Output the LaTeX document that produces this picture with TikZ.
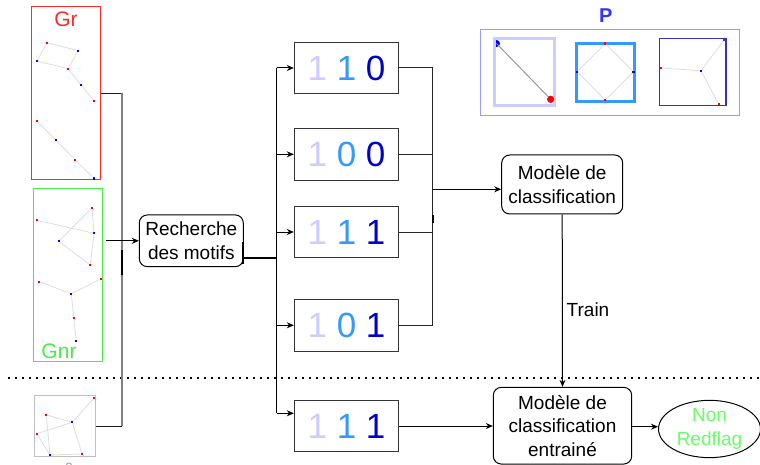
\documentclass[tikz,border=0pt]{standalone}
\usepackage{fontspec}
\setmainfont{Liberation Sans}
\usetikzlibrary{arrows.meta,shapes.geometric}
\definecolor{gr}{HTML}{FF2A2A}
\definecolor{gn}{HTML}{44EE44}
\definecolor{lgn}{HTML}{66FF66}
\definecolor{lav}{HTML}{CCCCFF}
\definecolor{mblue}{HTML}{3399FF}
\definecolor{dblue}{HTML}{0000CC}
\definecolor{pblue}{HTML}{3333FF}
\definecolor{pframe}{HTML}{9999FF}
\definecolor{sq3}{HTML}{3333CC}
\definecolor{edgec}{HTML}{DDDDDD}
\definecolor{boxc}{HTML}{333333}
\begin{document}
\begin{tikzpicture}[x=1pt,y=-1pt,
  rdot/.style={rectangle,fill=red,inner sep=0pt,minimum size=2.2pt},
  bdot/.style={rectangle,fill=blue,inner sep=0pt,minimum size=2.2pt},
  gedge/.style={draw=edgec,line width=0.8pt},
  bitbox/.style={draw=boxc,line width=1pt,minimum width=104.4pt,minimum height=51.5pt,inner sep=0pt,font=\fontsize{35}{35}\selectfont},
  rbox/.style={draw=black,line width=1pt,rounded corners=8pt,align=center,inner sep=0pt,font=\fontsize{19}{23.5}\selectfont},
  conn/.style={draw=black!85,line width=1pt},
  arr/.style={draw=black,line width=1pt,-{Stealth[length=7pt,width=6pt]}},
  lbl/.style={inner sep=0pt,font=\fontsize{19}{23.5}\selectfont}
]
\useasboundingbox (0,0) rectangle (760,465);

% ---------- Gr ----------
\node[draw=gr,line width=1pt,minimum width=69pt,minimum height=173pt,inner sep=0pt] (grbox) at (65.5,93.5) {};
\node[text=gr,inner sep=0pt,font=\fontsize{21}{21}\selectfont] (grt) at (66,19) {Gr};
\node[rdot] (a1) at (47.3,42.7) {};
\node[bdot] (a2) at (78.3,50.7) {};
\node[bdot] (a3) at (36.7,61) {};
\node[rdot] (a4) at (68,68.7) {};
\node[bdot] (a5) at (81,85) {};
\node[rdot] (a6) at (94,100.7) {};
\node[rdot] (a7) at (36.7,121) {};
\node[bdot] (a8) at (56,140.3) {};
\node[rdot] (a9) at (75,159.7) {};
\node[bdot] (a10) at (94,178.5) {};
\draw[gedge] (a1)--(a2) (a1)--(a3) (a3)--(a4) (a2)--(a4) (a4)--(a5) (a5)--(a6)
  (a7)--(a8) (a8)--(a9) (a9)--(a10);

% ---------- Gnr ----------
\node[draw=gn,line width=1pt,minimum width=69.4pt,minimum height=172.7pt,inner sep=0pt] (gnbox) at (68,275.3) {};
\node[text=gn,inner sep=0pt,font=\fontsize{21}{21}\selectfont] (gnt) at (59,351) {Gnr};
\node[rdot] (c1) at (92,208) {};
\node[rdot] (c2) at (36.7,220.3) {};
\node[bdot] (c3) at (94,233.3) {};
\node[bdot] (c4) at (58.7,241.3) {};
\node[rdot] (c5) at (90.3,265) {};
\node[rdot] (c6) at (39.3,281.7) {};
\node[rdot] (c7) at (100.7,279) {};
\node[bdot] (c8) at (71.3,293.7) {};
\node[rdot] (c9) at (73.7,317.7) {};
\node[bdot] (c10) at (76.3,340.7) {};
\draw[gedge] (c1)--(c3) (c1)--(c4) (c2)--(c3) (c4)--(c5) (c3)--(c5)
  (c6)--(c8) (c7)--(c8) (c8)--(c9) (c9)--(c10);

% ---------- small graph ----------
\node[draw=black!25,line width=1.5pt,minimum width=61pt,minimum height=60.6pt,inner sep=0pt] (sm) at (65.2,426) {};
\node[rdot] (d1) at (94,398) {};
\node[rdot] (d2) at (46.3,415) {};
\node[bdot] (d3) at (72.3,422.3) {};
\node[rdot] (d4) at (36.7,433.7) {};
\node[bdot] (d5) at (50,455) {};
\node[rdot] (d6) at (82,454) {};
\draw[gedge] (d1)--(d3) (d2)--(d3) (d2)--(d5) (d4)--(d3) (d4)--(d5) (d3)--(d6) (d5)--(d6);
\node[text=black!40,inner sep=0pt,font=\fontsize{12}{12}\selectfont] (qm) at (69,467.5) {?};

% ---------- dotted separator ----------
\coordinate (dl) at (8,378);
\coordinate (dr) at (760,378);
\draw[black,line width=1.6pt,dash pattern=on 1.6pt off 5.4pt] (dl) -- (dr);

% ---------- left collector ----------
\coordinate (j1) at (121.7,93.5);
\coordinate (j2) at (121.7,426);
\coordinate (j3) at (121.7,250);
\coordinate (j4) at (121.7,275);
\coordinate (ain) at (106,240.8);
\draw[black!90,line width=1pt] (grbox.east) -- (j1);
\draw[black!50,line width=2pt] (j1) -- (j2);
\draw[black!90,line width=1pt] (sm.east) -- (j2);
\draw[black,line width=2pt] (j3) -- (j4);

% ---------- Recherche ----------
\node[rbox,minimum width=104pt,minimum height=51.7pt] (rech) at (191.3,240.8) {Recherche\\des motifs};
\draw[arr] (ain) -- (rech.west);
\coordinate (rt) at (243.3,241.7);
\coordinate (rb) at (243.3,264);
\draw[black,line width=2pt] (rt) -- (rb);
\coordinate (f0) at (276.7,258.3);
\draw[black,line width=2pt] (rech.east |- f0) -- (f0);

% ---------- bit boxes ----------
\node[bitbox] (b1) at (346.5,68) {\textcolor{lav}{1} \textcolor{mblue}{1} \textcolor{dblue}{0}};
\node[bitbox] (b2) at (346.5,154.3) {\textcolor{lav}{1} \textcolor{mblue}{0} \textcolor{dblue}{0}};
\node[bitbox] (b3) at (346.5,232) {\textcolor{lav}{1} \textcolor{mblue}{1} \textcolor{dblue}{1}};
\node[bitbox] (b4) at (346.5,325.3) {\textcolor{lav}{1} \textcolor{mblue}{0} \textcolor{dblue}{1}};
\node[bitbox] (b5) at (346.5,426) {\textcolor{lav}{1} \textcolor{mblue}{1} \textcolor{dblue}{1}};

\coordinate (ft) at (276.7,68);
\coordinate (fb) at (276.7,413.3);
\draw[conn,draw=black] (ft) -- (fb);
\draw[arr] (ft) -- (b1.west);
\draw[arr] (276.7,154.3) -- (b2.west);
\draw[arr] (276.7,232) -- (b3.west);
\draw[arr] (276.7,325.3) -- (b4.west);
\draw[arr] (fb) -- (fb -| b5.west);

% ---------- right collector ----------
\coordinate (k1) at (432.7,68);
\coordinate (k4) at (432.7,325.3);
\coordinate (km) at (432.7,189.3);
\draw[conn] (b1.east) -- (k1) -- (k4) -- (b4.east);
\draw[conn] (b2.east) -- (b2.east -| k1);
\draw[conn] (b3.east) -- (b3.east -| k1);
\draw[black,line width=2pt] (432.7,215) -- (432.7,223);

% ---------- classifier ----------
\node[rbox,minimum width=121pt,minimum height=59pt] (mc) at (562.2,184.5) {Modèle de\\classification};
\draw[arr] (km) -- (km -| mc.west);

\node[rbox,minimum width=138.4pt,minimum height=76.7pt] (me) at (562.5,425.7) {Modèle de\\classification\\entrainé};
\draw[arr] (mc.south) -- (me.north);
\node[lbl,anchor=west] (train) at (566.5,310) {Train};

\draw[arr] (b5.east) -- (b5.east -| me.west);

\node[draw=black,line width=1pt,ellipse,minimum width=102pt,minimum height=55pt,inner sep=0pt,align=center,text=lgn,font=\fontsize{19}{23.5}\selectfont] (ell) at (709.5,429) {Non\\Redflag};
\draw[arr] (me.east |- 0,426.7) -- (ell.west |- 0,426.7);

% ---------- P panel ----------
\node[text=pblue,inner sep=0pt,font=\bfseries\fontsize{20}{20}\selectfont] (pt) at (605.7,16) {P};
\node[draw=pframe,line width=1.2pt,minimum width=259pt,minimum height=86.4pt,inner sep=0pt] (pframe) at (609.8,72.5) {};

% square 1
\node[circle,fill=blue,inner sep=0pt,minimum size=7pt] (p1) at (496.5,43.5) {};
\node[circle,fill=red,inner sep=0pt,minimum size=7pt] (p2) at (550.7,99.3) {};
\draw[black!40,line width=1pt] (p1.center) -- (p2.center);
\node[draw=lav,line width=3pt,minimum width=60.3pt,minimum height=67.3pt,inner sep=0pt] (s1) at (524.3,71.8) {};
\node[circle,fill=red,inner sep=0pt,minimum size=7pt] at (p2) {};

% square 2
\node[draw=mblue,line width=3pt,minimum width=58pt,minimum height=58pt,inner sep=0pt] (s2) at (605.2,72.2) {};
\node[rdot] (q1) at (605.3,43.5) {};
\node[bdot] (q2) at (577.3,71.7) {};
\node[bdot] (q3) at (633.5,71.7) {};
\node[rdot] (q4) at (605.3,100.2) {};
\draw[gedge] (q1)--(q2) (q1)--(q3) (q2)--(q4) (q3)--(q4);

% square 3
\node[draw=sq3,line width=1.3pt,minimum width=66.4pt,minimum height=66.6pt,inner sep=0pt] (s3) at (692.5,72) {};
\draw[sq3,line width=2pt] (s3.north east) -- (s3.south east);
\node[rdot] (r1) at (724,40) {};
\node[rdot] (r2) at (660.7,68) {};
\node[bdot] (r3) at (701,70.7) {};
\node[rdot] (r4) at (718.7,104) {};
\draw[gedge] (r3)--(r1) (r3)--(r2) (r3)--(r4);
\end{tikzpicture}
\end{document}
